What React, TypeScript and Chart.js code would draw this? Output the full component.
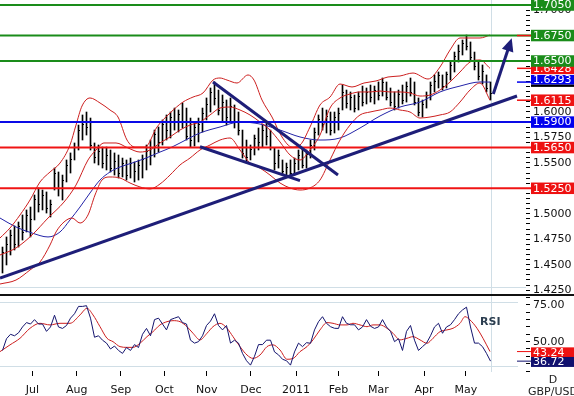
import React, { useEffect, useRef } from 'react';
import { Chart, registerables } from 'chart.js';

Chart.register(...registerables);
Chart.defaults.font.family = 'DejaVu Sans';

// ---------- time axis (trading-day index) ----------
const MONTH_DAYS = [16.2, 38.4, 60.4, 82.2, 103.4, 125.4, 148, 169.2, 189.2, 212, 232.9];
const MONTH_LABELS = ['Jul', 'Aug', 'Sep', 'Oct', 'Nov', 'Dec', '2011', 'Feb', 'Mar', 'Apr', 'May'];
const X_MAX = 263;
const BAR_FIRST_DAY = 1.25;
const BAR_STEP = 2;
const LAST_DAY = 245.3;

// ---------- GBP/USD bars (2-day HLC) ----------
const HIGH = [
  1.4673, 1.4772, 1.4840, 1.4880, 1.4919, 1.4988, 1.5037, 1.5066, 1.5184, 1.5253,
  1.5233, 1.5214, 1.5135, 1.5449, 1.5410, 1.5380, 1.5528, 1.5597, 1.5695, 1.5871,
  1.5970, 1.5999, 1.5940, 1.5695, 1.5675, 1.5655, 1.5655, 1.5626, 1.5597, 1.5577,
  1.5547, 1.5528, 1.5547, 1.5508, 1.5528, 1.5577, 1.5675, 1.5724, 1.5822, 1.5852,
  1.5921, 1.5970, 1.5999, 1.6038, 1.6019, 1.6088, 1.6038, 1.5940, 1.5901, 1.5940,
  1.6038, 1.6137, 1.6235, 1.6294, 1.6215, 1.6166, 1.6117, 1.6137, 1.6068, 1.5999,
  1.5822, 1.5724, 1.5675, 1.5773, 1.5842, 1.5871, 1.5901, 1.5822, 1.5646, 1.5626,
  1.5528, 1.5498, 1.5528, 1.5547, 1.5626, 1.5646, 1.5626, 1.5724, 1.5842, 1.5970,
  1.6038, 1.6019, 1.5999, 1.5999, 1.6038, 1.6264, 1.6215, 1.6196, 1.6166, 1.6196,
  1.6254, 1.6235, 1.6264, 1.6254, 1.6294, 1.6333, 1.6294, 1.6235, 1.6196, 1.6215,
  1.6264, 1.6294, 1.6333, 1.6294, 1.6137, 1.6117, 1.6196, 1.6294, 1.6363, 1.6392,
  1.6363, 1.6392, 1.6490, 1.6588, 1.6657, 1.6706, 1.6755, 1.6687, 1.6588, 1.6490,
  1.6461, 1.6363, 1.6294,
];
const LOW = [
  1.4418, 1.4497, 1.4595, 1.4644, 1.4673, 1.4742, 1.4821, 1.4772, 1.4939, 1.5017,
  1.5037, 1.5007, 1.4968, 1.5233, 1.5174, 1.5135, 1.5312, 1.5400, 1.5528, 1.5626,
  1.5724, 1.5773, 1.5626, 1.5498, 1.5479, 1.5449, 1.5430, 1.5410, 1.5380, 1.5351,
  1.5361, 1.5331, 1.5351, 1.5312, 1.5331, 1.5351, 1.5430, 1.5479, 1.5557, 1.5606,
  1.5675, 1.5724, 1.5744, 1.5822, 1.5803, 1.5842, 1.5724, 1.5655, 1.5665, 1.5705,
  1.5803, 1.5921, 1.5999, 1.6068, 1.5970, 1.5901, 1.5871, 1.5901, 1.5842, 1.5773,
  1.5547, 1.5498, 1.5528, 1.5577, 1.5626, 1.5655, 1.5675, 1.5626, 1.5430, 1.5449,
  1.5380, 1.5361, 1.5371, 1.5380, 1.5430, 1.5449, 1.5449, 1.5547, 1.5626, 1.5773,
  1.5822, 1.5793, 1.5773, 1.5793, 1.5822, 1.6019, 1.6038, 1.6019, 1.5999, 1.6019,
  1.6058, 1.6078, 1.6097, 1.6078, 1.6117, 1.6156, 1.6117, 1.6058, 1.6019, 1.6038,
  1.6078, 1.6097, 1.6156, 1.6068, 1.5960, 1.5950, 1.6038, 1.6117, 1.6196, 1.6235,
  1.6215, 1.6235, 1.6313, 1.6392, 1.6490, 1.6559, 1.6608, 1.6510, 1.6412, 1.6313,
  1.6274, 1.6196, 1.6117,
];
const CLOSE = [
  1.4620, 1.4700, 1.4790, 1.4700, 1.4880, 1.4820, 1.4990, 1.4950, 1.5140, 1.5100,
  1.5180, 1.5060, 1.5100, 1.5400, 1.5250, 1.5330, 1.5480, 1.5540, 1.5660, 1.5820,
  1.5880, 1.5850, 1.5680, 1.5560, 1.5620, 1.5500, 1.5580, 1.5450, 1.5520, 1.5400,
  1.5500, 1.5380, 1.5500, 1.5420, 1.5480, 1.5540, 1.5620, 1.5580, 1.5780, 1.5700,
  1.5880, 1.5820, 1.5950, 1.5900, 1.5980, 1.5900, 1.5760, 1.5720, 1.5850, 1.5880,
  1.5990, 1.6080, 1.6200, 1.6140, 1.6020, 1.6100, 1.5950, 1.6060, 1.5900, 1.5820,
  1.5600, 1.5560, 1.5640, 1.5740, 1.5700, 1.5820, 1.5760, 1.5660, 1.5500, 1.5580,
  1.5420, 1.5460, 1.5400, 1.5500, 1.5580, 1.5480, 1.5590, 1.5680, 1.5800, 1.5930,
  1.5880, 1.5960, 1.5820, 1.5950, 1.5990, 1.6200, 1.6090, 1.6150, 1.6040, 1.6160,
  1.6100, 1.6200, 1.6150, 1.6220, 1.6170, 1.6290, 1.6150, 1.6100, 1.6060, 1.6180,
  1.6120, 1.6250, 1.6200, 1.6100, 1.6000, 1.6080, 1.6170, 1.6260, 1.6300, 1.6360,
  1.6250, 1.6370, 1.6460, 1.6550, 1.6600, 1.6680, 1.6650, 1.6540, 1.6450, 1.6350,
  1.6400, 1.6230, 1.6190,
];

// ---------- Bollinger bands and moving average ----------
const UPPER_DAYS = [0, 5, 10, 15, 20, 25, 30, 35, 38, 41, 45, 50, 55, 59, 63.5, 67.5, 72.5, 78.5, 85, 91.5,
  96.5, 101.5, 106.5, 110, 113.5, 118.5, 124, 127, 131, 136, 141, 146, 150, 155, 160, 165, 170, 176, 182, 188,
  194, 200, 206.5, 214, 220, 225, 230, 235, 240, 245];
const UPPER_BAND = [1.4762, 1.4860, 1.4988, 1.5135, 1.5312, 1.5410, 1.5498, 1.5675, 1.5871, 1.6058,
  1.6137, 1.6088, 1.6019, 1.5950, 1.5724, 1.5655, 1.5655, 1.5852, 1.5989, 1.6097,
  1.6146, 1.6186, 1.6313, 1.6333, 1.6313, 1.6284, 1.6363, 1.6313, 1.6117, 1.5950,
  1.5754, 1.5655, 1.5675, 1.5852, 1.6068, 1.6146, 1.6274, 1.6245, 1.6284, 1.6304,
  1.6343, 1.6353, 1.6382, 1.6323, 1.6441, 1.6608, 1.6726, 1.6726, 1.6726, 1.6755];
const MID_DAYS = [0, 8, 16, 24, 32, 38, 44, 48, 52, 58, 64, 70, 75, 80, 85, 90, 95, 100, 105, 110,
  115, 120, 125, 130, 135, 140, 145, 150, 155, 160, 165, 170, 175, 180, 185, 190, 195, 200, 205, 210,
  215, 220, 225, 230, 235, 240, 245];
const MID_BAND = [1.4595, 1.4664, 1.4791, 1.4958, 1.5115, 1.5282, 1.5528, 1.5626, 1.5695, 1.5695,
  1.5646, 1.5606, 1.5626, 1.5695, 1.5754, 1.5822, 1.5871, 1.5901, 1.5970, 1.6038,
  1.6048, 1.6019, 1.5970, 1.5901, 1.5822, 1.5705, 1.5577, 1.5528, 1.5626, 1.5773,
  1.6038, 1.6137, 1.6176, 1.6196, 1.6196, 1.6205, 1.6196, 1.6196, 1.6186, 1.6156,
  1.6166, 1.6215, 1.6294, 1.6392, 1.6490, 1.6510, 1.6428];
const LOWER_DAYS = [0, 8, 15, 20, 25, 28, 32, 36, 40, 44, 47.5, 51, 55, 60, 65, 70, 75, 80, 85, 90,
  95, 100, 105, 110, 115, 120, 125, 130, 135, 140, 145, 150, 155, 160, 165, 170, 175, 180, 185, 190,
  195, 200, 205, 210, 215, 220, 225, 230, 235, 240, 245];
const LOWER_BAND = [1.4310, 1.4349, 1.4448, 1.4526, 1.4693, 1.4821, 1.4919, 1.4958, 1.4909, 1.4988,
  1.5184, 1.5331, 1.5361, 1.5351, 1.5302, 1.5263, 1.5243, 1.5292, 1.5380, 1.5479,
  1.5547, 1.5626, 1.5675, 1.5724, 1.5744, 1.5626, 1.5498, 1.5449, 1.5380, 1.5302,
  1.5253, 1.5233, 1.5253, 1.5331, 1.5528, 1.5724, 1.5871, 1.5970, 1.5999, 1.6019,
  1.6038, 1.6019, 1.5999, 1.5940, 1.5950, 1.5970, 1.5999, 1.6097, 1.6215, 1.6284, 1.6115];
const MA_DAYS = [0, 8, 16, 24, 30, 35, 40, 45, 50, 55, 60, 66, 73, 80, 85, 90, 100, 110, 120, 130,
  140, 150, 160, 170, 180, 190, 200, 210, 220, 230, 240, 245];
const MA_VALUES = [1.4958, 1.4870, 1.4811, 1.4772, 1.4821, 1.4939, 1.5066, 1.5204, 1.5331, 1.5410,
  1.5459, 1.5498, 1.5547, 1.5606, 1.5646, 1.5695, 1.5793, 1.5852, 1.5901, 1.5881,
  1.5822, 1.5754, 1.5724, 1.5744, 1.5842, 1.5960, 1.6048, 1.6097, 1.6196, 1.6254, 1.6294, 1.6293];

// ---------- drawn trendlines and levels ----------
const TREND_LINES = [
  [[0, 1.4369], [258.5, 1.6156]],
  [[106.5, 1.6294], [169, 1.5381]],
  [[100, 1.5658], [150, 1.5325]],
];
const ARROW_FROM = [246.65, 1.6176];
const ARROW_TO = [255.85, 1.6723];
const GREEN_LEVELS = [1.7050, 1.6750, 1.6500];
const RED_LEVELS = [1.5650, 1.5250];
const BLUE_LEVELS = [1.5900];
const LEVEL_END_DAY = 265.5;
const PRICE_FLOOR_LINE = 1.4278;

// right-hand value boxes (draw order)
const BOX_VALUES = [1.7050, 1.6750, 1.6428, 1.6500, 1.6293, 1.6115, 1.5900, 1.5650, 1.5250];
const BOX_KINDS = ['g', 'g', 'r', 'g', 'b', 'r', 'b', 'r', 'r'];
const MARKER_VALUES = [1.6750, 1.6428, 1.6293, 1.6115];
const MARKER_KINDS = ['r', 'r', 'b', 'r'];

// ---------- price axis ----------
const PRICE_MIN = 1.42119;
const PRICE_MAX = 1.70991;
const PRICE_LABELS = [1.425, 1.45, 1.475, 1.5, 1.525, 1.55, 1.575, 1.6, 1.65, 1.675, 1.7];
const PRICE_MINOR_STEP = 0.005;

// ---------- RSI ----------
const RSI_VALUES = [
  44, 52, 55, 54, 56, 60, 63, 62, 65, 62,
  62, 57, 60, 68, 60, 59, 61, 66, 69, 74,
  74, 74.5, 66, 53, 54, 51, 49, 45, 47, 44,
  42, 46, 44, 48, 46, 55, 59, 54, 65, 66,
  62, 58, 65, 66, 67, 63, 62, 51, 49, 50,
  54, 61, 64, 69, 61, 58, 61, 49, 51, 49,
  42, 37, 34, 40, 48, 48, 51, 51, 43, 41,
  38, 37, 34, 43, 49, 46.6, 49.3, 48.9, 58, 63.6,
  67, 62.5, 60.2, 59.1, 59, 67, 62.5, 61.5, 61.5, 58,
  60, 65, 60.5, 59, 60, 65, 60, 57, 50, 52,
  44, 57, 61, 51, 44, 46.6, 49, 54, 60, 62.5,
  55.7, 60, 61.5, 65, 69, 71.6, 73.5, 60, 49, 49,
  46.6, 42, 36.72,
];
const RSI_SIGNAL_DAYS = [0, 5, 10, 15, 20, 25, 30, 35, 40, 43.5, 46.5, 50, 53.5, 56.5, 60, 63.5, 66.5, 70, 73.5, 76.5,
  80, 83.5, 86.5, 90, 93.5, 96.5, 100, 103.5, 106.5, 110, 113.5, 116.5, 120, 123.5, 126.5, 130, 133.5, 136.5, 140, 143.5,
  146.5, 150, 153.5, 156.5, 160, 163.5, 166.5, 170, 173.5, 176.5, 180, 183.5, 186.5, 190, 193.5, 196.5, 200, 203.5, 206.5, 210,
  213.5, 216.5, 220, 223.5, 226.5, 230, 232.5, 235, 238.5, 241.5, 245];
const RSI_SIGNAL = [43.2, 47.8, 52.3, 59.1, 62.5, 61.4, 62.5, 62.5, 68.2, 72.7,
  68.2, 60.2, 52.3, 50, 46.6, 46.1, 46.1, 48.9, 53.4, 56.8,
  61.4, 63.6, 64.3, 63.6, 60.2, 55.7, 51.2, 55.7, 60.2, 62.5,
  59.1, 53.4, 46.6, 40.9, 38.6, 40.9, 46.6, 47.8, 44.3, 38,
  38.5, 43.2, 46.6, 51.2, 58, 63, 62.5, 61.4, 61.4, 62.5,
  61.4, 60.2, 61.4, 61.4, 59.1, 55.7, 51.2, 52.3, 53.4, 51.2,
  48.9, 52.3, 56.8, 58, 59.1, 62.5, 67, 64.8, 59.1, 52.3, 43.24];
const RSI_MIN = 30;
const RSI_MAX = 81.1;
const RSI_TICKS = [30, 35, 40, 45, 50, 55, 60, 65, 70, 75, 80];
const RSI_LABELS = [50, 75];
const RSI_GUIDES = [76.8, 33.6];

// ---------- styles ----------
const W = 574;
const PRICE_H = 294;
const RSI_H = 102;
const AXIS_W = 48;
const GREEN = '#1a8c1a';
const RED = '#f01414';
const BLUE = '#0a0ae6';
const NAVY = '#1e1e78';
const BAND_RED = '#cc1f1f';
const MA_BLUE = '#2424a8';
const LIGHT = '#d0dee6';
const BOX_COLORS: Record<string, string> = { g: GREEN, r: '#ee1111', b: '#0000ee', n: '#10106e' };
const FONT = '11px "DejaVu Sans"';

const pts = (xs: number[], ys: number[]) => xs.map((x, i) => ({ x, y: ys[i] }));

const axisStyle = {
  ticks: { autoSkip: false, padding: 3, color: '#111', font: { family: 'DejaVu Sans', size: 11 } },
  grid: { drawOnChartArea: false, drawTicks: true, tickLength: 4, tickColor: '#000', lineWidth: 1 },
  border: { display: false },
};

function drawBox(ctx: CanvasRenderingContext2D, y: number, h: number, color: string, text: string) {
  ctx.fillStyle = color;
  ctx.fillRect(531, y - h / 2, W - 531, h);
  ctx.fillStyle = '#fff';
  ctx.font = FONT;
  ctx.textAlign = 'left';
  ctx.textBaseline = 'middle';
  ctx.fillText(text, 533, y + 0.5);
}

export default function App() {
  const topRef = useRef<HTMLCanvasElement>(null);
  const botRef = useRef<HTMLCanvasElement>(null);

  useEffect(() => {
    document.body.style.margin = '0';

    const priceTicks: number[] = [];
    for (let v = 1.425; v <= 1.7051; v += PRICE_MINOR_STEP) priceTicks.push(Math.round(v * 1000) / 1000);

    const levelSet = (vals: number[], color: string) =>
      vals.map((v) => ({
        type: 'line' as const,
        data: [{ x: 0, y: v }, { x: LEVEL_END_DAY, y: v }],
        borderColor: color,
        borderWidth: 2,
        pointRadius: 0,
        clip: { left: 0, top: 0, right: 6, bottom: 0 },
        order: 4,
      }));

    const curve = (xs: number[], ys: number[], color: string) => ({
      type: 'line' as const,
      data: pts(xs, ys),
      borderColor: color,
      borderWidth: 1,
      pointRadius: 0,
      cubicInterpolationMode: 'monotone' as const,
      order: 6,
    });

    const pricePlugin = {
      id: 'pricePanel',
      beforeDatasetsDraw(chart: any) {
        const { ctx, chartArea, scales } = chart;
        ctx.save();
        ctx.strokeStyle = LIGHT;
        ctx.lineWidth = 1;
        const yb = Math.round(scales.y.getPixelForValue(PRICE_FLOOR_LINE)) + 0.5;
        ctx.beginPath();
        ctx.moveTo(0, yb);
        ctx.lineTo(chartArea.right, yb);
        const xv = Math.round(scales.x.getPixelForValue(LAST_DAY)) + 0.5;
        ctx.moveTo(xv, 0);
        ctx.lineTo(xv, chart.height);
        ctx.stroke();
        ctx.restore();
      },
      afterDatasetDraw(chart: any, args: any) {
        if (args.index !== 0) return;
        const { ctx, scales } = chart;
        ctx.save();
        ctx.fillStyle = '#000';
        CLOSE.forEach((c, i) => {
          const px = Math.round(scales.x.getPixelForValue(BAR_FIRST_DAY + i * BAR_STEP) - 0.5);
          ctx.fillRect(px + 1, Math.round(scales.y.getPixelForValue(c)), 1, 1);
        });
        ctx.restore();
      },
      afterDatasetsDraw(chart: any) {
        const { ctx, scales } = chart;
        const x0 = scales.x.getPixelForValue(ARROW_FROM[0]);
        const y0 = scales.y.getPixelForValue(ARROW_FROM[1]);
        const x1 = scales.x.getPixelForValue(ARROW_TO[0]);
        const y1 = scales.y.getPixelForValue(ARROW_TO[1]);
        const len = Math.hypot(x1 - x0, y1 - y0);
        const ux = (x1 - x0) / len;
        const uy = (y1 - y0) / len;
        const bx = x1 - ux * 13;
        const by = y1 - uy * 13;
        ctx.save();
        ctx.strokeStyle = NAVY;
        ctx.fillStyle = NAVY;
        ctx.lineWidth = 3;
        ctx.beginPath();
        ctx.moveTo(x0, y0);
        ctx.lineTo(bx + ux * 2, by + uy * 2);
        ctx.stroke();
        ctx.beginPath();
        ctx.moveTo(x1, y1);
        ctx.lineTo(bx - uy * 6, by + ux * 6);
        ctx.lineTo(bx + uy * 6, by - ux * 6);
        ctx.closePath();
        ctx.fill();
        ctx.restore();
      },
      afterDraw(chart: any) {
        const { ctx, scales } = chart;
        ctx.save();
        MARKER_VALUES.forEach((v, i) => {
          const y = scales.y.getPixelForValue(v);
          ctx.fillStyle = BOX_COLORS[MARKER_KINDS[i]];
          ctx.fillRect(517, y - 0.75, 14, 1.5);
        });
        BOX_VALUES.forEach((v, i) => {
          const y = scales.y.getPixelForValue(v);
          const kind = BOX_KINDS[i];
          if (kind === 'b' && v === 1.6293) {
            ctx.fillStyle = '#000';
            ctx.fillRect(531, y + 2.3, W - 531, 2.5);
            drawBox(ctx, y - 2.4, 9.5, BOX_COLORS[kind], v.toFixed(4));
          } else {
            drawBox(ctx, y, 11.5, BOX_COLORS[kind], v.toFixed(4));
          }
        });
        ctx.restore();
      },
    };

    const top = new Chart(topRef.current as HTMLCanvasElement, {
      type: 'line',
      data: {
        datasets: [
          {
            type: 'bar',
            data: HIGH.map((h, i) => ({ x: BAR_FIRST_DAY + i * BAR_STEP, y: [LOW[i], h] })) as any,
            backgroundColor: '#000',
            barThickness: 1,
            order: 10,
          } as any,
          curve(UPPER_DAYS, UPPER_BAND, BAND_RED),
          curve(MID_DAYS, MID_BAND, BAND_RED),
          curve(LOWER_DAYS, LOWER_BAND, BAND_RED),
          curve(MA_DAYS, MA_VALUES, MA_BLUE),
          ...levelSet(GREEN_LEVELS, GREEN),
          ...levelSet(RED_LEVELS, RED),
          ...levelSet(BLUE_LEVELS, BLUE),
          ...TREND_LINES.map((seg) => ({
            type: 'line' as const,
            data: seg.map((p) => ({ x: p[0], y: p[1] })),
            borderColor: NAVY,
            borderWidth: 3,
            pointRadius: 0,
            order: 2,
          })),
        ],
      },
      options: {
        animation: false,
        responsive: false,
        events: [],
        layout: { padding: 0 },
        plugins: { legend: { display: false }, tooltip: { enabled: false } },
        scales: {
          x: { type: 'linear', min: 0, max: X_MAX, display: false, offset: false, grid: { offset: false } } as any,
          y: {
            type: 'linear',
            position: 'right',
            min: PRICE_MIN,
            max: PRICE_MAX,
            afterBuildTicks: (s: any) => { s.ticks = priceTicks.map((value) => ({ value })); },
            afterFit: (s: any) => { s.width = AXIS_W; s.paddingTop = 0; s.paddingBottom = 0; },
            ...axisStyle,
            ticks: {
              ...axisStyle.ticks,
              callback: (v: any) => (PRICE_LABELS.some((m) => Math.abs(m - v) < 1e-6) ? Number(v).toFixed(4) : ''),
            },
          } as any,
        },
      },
      plugins: [pricePlugin],
    });

    const rsiPlugin = {
      id: 'rsiPanel',
      beforeDatasetsDraw(chart: any) {
        const { ctx, scales } = chart;
        ctx.save();
        ctx.fillStyle = '#111';
        ctx.fillRect(0, 0, W, 2);
        ctx.strokeStyle = LIGHT;
        ctx.lineWidth = 1;
        ctx.beginPath();
        RSI_GUIDES.forEach((g) => {
          const y = Math.round(scales.y.getPixelForValue(g)) + 0.5;
          ctx.moveTo(0, y);
          ctx.lineTo(518, y);
        });
        const xv = Math.round(scales.x.getPixelForValue(LAST_DAY)) + 0.5;
        ctx.moveTo(xv, 2);
        ctx.lineTo(xv, 78);
        ctx.stroke();
        ctx.restore();
      },
      afterDraw(chart: any) {
        const { ctx, scales } = chart;
        ctx.save();
        ctx.fillStyle = '#2c3e50';
        ctx.font = 'bold 11px "DejaVu Sans"';
        ctx.textAlign = 'left';
        ctx.textBaseline = 'middle';
        ctx.fillText('RSI', 480, 28.5);
        const last = [RSI_SIGNAL[RSI_SIGNAL.length - 1], RSI_VALUES[RSI_VALUES.length - 1]];
        const kinds = ['r', 'n'];
        last.forEach((v, i) => {
          const y = scales.y.getPixelForValue(v);
          ctx.fillStyle = BOX_COLORS[kinds[i]];
          ctx.fillRect(517, y - 0.5, 14, 1);
        });
        last.forEach((v, i) => {
          const y = scales.y.getPixelForValue(v);
          drawBox(ctx, y + 0.8, 10, BOX_COLORS[kinds[i]], v.toFixed(2));
        });
        ctx.fillStyle = '#222';
        ctx.font = FONT;
        ctx.textAlign = 'center';
        ctx.fillText('D', 553, 86.5);
        ctx.fillText('GBP/USD', 553, 98.5);
        ctx.restore();
      },
    };

    const bot = new Chart(botRef.current as HTMLCanvasElement, {
      type: 'line',
      data: {
        datasets: [
          {
            data: RSI_VALUES.map((v, i) => ({ x: BAR_FIRST_DAY + i * BAR_STEP, y: v })),
            borderColor: '#14146e',
            borderWidth: 1,
            pointRadius: 0,
            tension: 0,
          },
          {
            data: pts(RSI_SIGNAL_DAYS, RSI_SIGNAL),
            borderColor: BAND_RED,
            borderWidth: 1,
            pointRadius: 0,
            cubicInterpolationMode: 'monotone',
          },
        ],
      },
      options: {
        animation: false,
        responsive: false,
        events: [],
        layout: { padding: { top: 2, left: 0, right: 0, bottom: 0 } },
        plugins: { legend: { display: false }, tooltip: { enabled: false } },
        scales: {
          x: {
            type: 'linear',
            position: 'bottom',
            min: 0,
            max: X_MAX,
            offset: false,
            afterBuildTicks: (s: any) => { s.ticks = MONTH_DAYS.map((value) => ({ value })); },
            afterFit: (s: any) => { s.height = 25; s.paddingLeft = 0; s.paddingRight = 0; },
            ticks: { autoSkip: false, maxRotation: 0, padding: 8, color: '#111', font: { family: 'DejaVu Sans', size: 11 },
              callback: (_v: any, i: number) => MONTH_LABELS[i] },
            grid: { drawOnChartArea: false, drawTicks: true, tickLength: 5, tickColor: '#000' },
            border: { display: false },
          } as any,
          y: {
            type: 'linear',
            position: 'right',
            min: RSI_MIN,
            max: RSI_MAX,
            afterBuildTicks: (s: any) => { s.ticks = RSI_TICKS.map((value) => ({ value })); },
            afterFit: (s: any) => { s.width = AXIS_W; s.paddingTop = 0; s.paddingBottom = 0; },
            ...axisStyle,
            ticks: {
              ...axisStyle.ticks,
              callback: (v: any) => (RSI_LABELS.includes(Number(v)) ? Number(v).toFixed(2) : ''),
            },
          } as any,
        },
      },
      plugins: [rsiPlugin],
    });

    return () => {
      top.destroy();
      bot.destroy();
    };
  }, []);

  return (
    <div style={{ width: W, height: PRICE_H + RSI_H, position: 'relative', background: '#fff', overflow: 'hidden' }}>
      <canvas ref={topRef} width={W} height={PRICE_H} style={{ display: 'block' }} />
      <canvas ref={botRef} width={W} height={RSI_H} style={{ display: 'block' }} />
    </div>
  );
}
